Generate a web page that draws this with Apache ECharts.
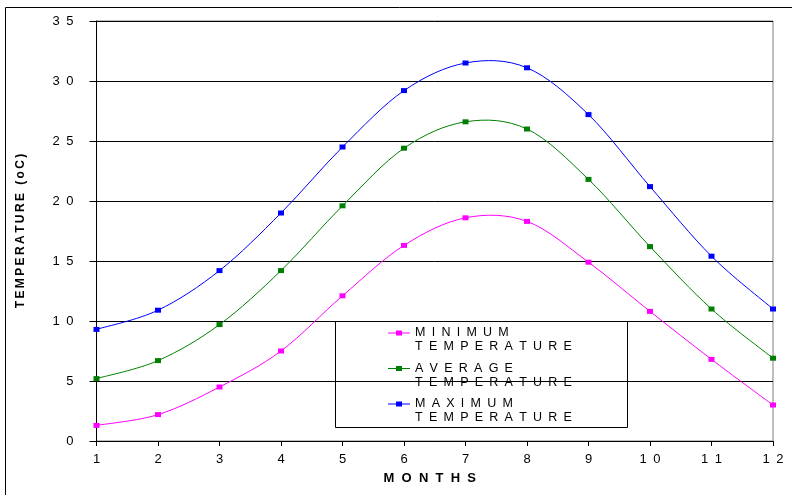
<!DOCTYPE html>
<html>
<head>
<meta charset="utf-8">
<script src="https://cdn.jsdelivr.net/npm/echarts@6/dist/echarts.min.js"></script>
<style>
  html, body { margin: 0; padding: 0; background: #fff; }
  #chart { width: 792px; height: 495px; }
</style>
</head>
<body>
<div id="chart"></div>
<script>
// Monthly temperatures (°C)
const months = ['1', '2', '3', '4', '5', '6', '7', '8', '9', '10', '11', '12'];
const minTemp = [1.3, 2.2, 4.5, 7.5, 12.1, 16.3, 18.6, 18.3, 14.9, 10.8, 6.8, 3.0];
const avgTemp = [5.2, 6.7, 9.7, 14.2, 19.6, 24.4, 26.6, 26.0, 21.8, 16.2, 11.0, 6.9];
const maxTemp = [9.3, 10.9, 14.2, 19.0, 24.5, 29.2, 31.5, 31.1, 27.2, 21.2, 15.4, 11.0];

const seriesNames = [['MINIMUM', 'TEMPERATURE'], ['AVERAGE', 'TEMPERATURE'], ['MAXIMUM', 'TEMPERATURE']];
const seriesColors = ['#FF00FF', '#008000', '#0000FF'];
const seriesData = [minTemp, avgTemp, maxTemp];

const yMin = 0, yMax = 35, yStep = 5;
const xTitle = 'MONTHS';
const yTitle = 'TEMPERATURE (oC)';

const FONT = '"Liberation Sans", Arial, Helvetica, sans-serif';
const EN = '\u2002';   // en space used as letter spacing
const THIN = '\u2009';

function spaced(s, gap) { return String(s).split('').join(gap); }

const chart = echarts.init(document.getElementById('chart'), null, { renderer: 'canvas' });

// Smooth curve: one cubic Bezier per segment, Catmull-Rom style tangents (1/6 of neighbour span)
function curveRenderer(values, color) {
  return function (params, api) {
    const i = params.dataIndex;
    const n = values.length;
    if (i >= n - 1) return null;
    const p = k => api.coord([Math.max(0, Math.min(n - 1, k)), values[Math.max(0, Math.min(n - 1, k))]]);
    const p0 = p(i - 1), p1 = p(i), p2 = p(i + 1), p3 = p(i + 2);
    return {
      type: 'bezierCurve',
      shape: {
        x1: p1[0], y1: p1[1],
        cpx1: p1[0] + (p2[0] - p0[0]) / 6, cpy1: p1[1] + (p2[1] - p0[1]) / 6,
        cpx2: p2[0] - (p3[0] - p1[0]) / 6, cpy2: p2[1] - (p3[1] - p1[1]) / 6,
        x2: p2[0], y2: p2[1]
      },
      style: { stroke: color, fill: null, lineWidth: 1 },
      silent: true
    };
  };
}

// Legend drawn as a framed box with two-line entries
const legendBox = { x: 335.5, y: 321.5, w: 292, h: 106 };
const legendChildren = [{
  type: 'rect',
  shape: { x: legendBox.x, y: legendBox.y, width: legendBox.w, height: legendBox.h },
  style: { fill: '#fff', stroke: '#000', lineWidth: 1 }
}];
seriesNames.forEach((nm, i) => {
  const cy = 333 + i * 35.5;
  legendChildren.push({
    type: 'line',
    shape: { x1: 388, y1: cy, x2: 410, y2: cy },
    style: { stroke: seriesColors[i], lineWidth: 1 }
  });
  legendChildren.push({
    type: 'rect',
    shape: { x: 396, y: cy - 2.5, width: 6, height: 5 },
    style: { fill: seriesColors[i] }
  });
  legendChildren.push({
    type: 'text',
    x: 415, y: cy - 7,
    style: {
      text: spaced(nm[0], EN) + '\n' + spaced(nm[1], EN),
      font: '12.5px ' + FONT, fill: '#000', lineHeight: 14,
      verticalAlign: 'top'
    }
  });
});

const curveSeries = seriesData.map((d, i) => ({
  type: 'custom',
  name: seriesNames[i].join(' ') + ' curve',
  data: d.map((v, k) => [k, v]),
  encode: { x: 0, y: 1 },
  renderItem: curveRenderer(d, seriesColors[i]),
  z: 3
}));

const markerSeries = seriesData.map((d, i) => ({
  name: seriesNames[i].join(' '),
  type: 'line',
  data: d,
  symbol: 'rect',
  symbolSize: [6, 5],
  lineStyle: { width: 0, opacity: 0 },
  itemStyle: { color: seriesColors[i] },
  z: 4
}));

const option = {
  animation: false,
  backgroundColor: '#fff',
  grid: {
    left: 96.5, right: 19, top: 21, bottom: 54,
    show: true, borderColor: '#808080', borderWidth: 1, backgroundColor: 'transparent'
  },
  xAxis: {
    type: 'category',
    data: months,
    boundaryGap: false,
    axisLine: { lineStyle: { color: '#000', width: 1 } },
    axisTick: { show: true, inside: false, length: 5, lineStyle: { color: '#000' } },
    axisLabel: {
      color: '#000', fontFamily: FONT, fontSize: 13, margin: 12,
      formatter: v => spaced(v, EN)
    },
    splitLine: { show: false },
    name: spaced(xTitle, '  '),
    nameLocation: 'middle',
    nameGap: 31,
    nameTextStyle: { color: '#000', fontFamily: FONT, fontSize: 13, fontWeight: 'bold', padding: [0, 10, 0, 0] }
  },
  yAxis: {
    type: 'value',
    min: yMin, max: yMax, interval: yStep,
    axisLine: { show: true, lineStyle: { color: '#000', width: 1 } },
    axisTick: { show: true, inside: false, length: 7, lineStyle: { color: '#000' } },
    axisLabel: {
      color: '#000', fontFamily: FONT, fontSize: 13, margin: 23,
      formatter: v => spaced(v, EN)
    },
    splitLine: { show: true, lineStyle: { color: '#000', width: 1 } },
    name: spaced(yTitle, THIN),
    nameLocation: 'middle',
    nameRotate: 90,
    nameGap: 70,
    nameTextStyle: { color: '#000', fontFamily: FONT, fontSize: 12, fontWeight: 'bold' }
  },
  series: curveSeries.concat(markerSeries),
  graphic: [
    {
      type: 'rect',
      shape: { x: 5.5, y: 7.5, width: 820, height: 520 },
      style: { fill: 'none', stroke: '#000', lineWidth: 1 },
      z: 20
    },
    { type: 'group', z: 10, children: legendChildren }
  ]
};

chart.setOption(option);
</script>
</body>
</html>
